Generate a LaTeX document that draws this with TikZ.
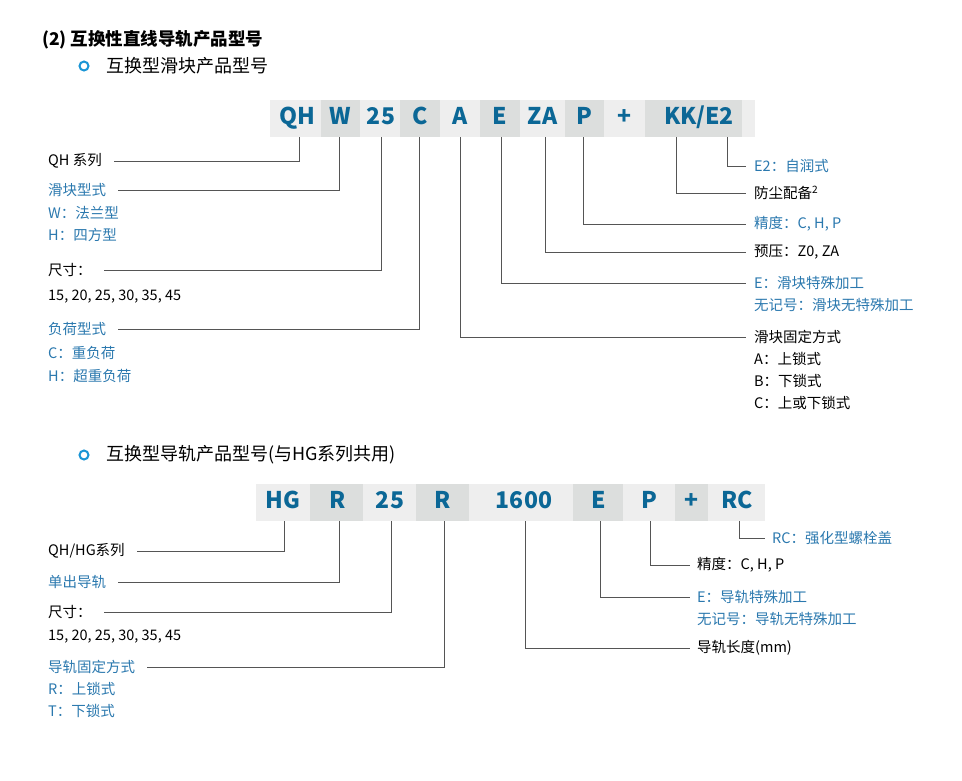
\documentclass[tikz,border=0pt]{standalone}
\usepackage{fontspec}
\setmainfont{Noto Sans CJK SC}
\usetikzlibrary{positioning}
\definecolor{codeblue}{HTML}{0B6796}
\definecolor{lblue}{HTML}{2A78AE}
\definecolor{iconblue}{HTML}{1A95D5}
\definecolor{boxlight}{HTML}{EEEEEE}
\definecolor{boxdark}{HTML}{DCDEDD}
\definecolor{lead}{HTML}{555555}
\tikzset{cell/.style = {inner sep = 0, minimum height = 37, text = codeblue,
                        text height = 16, text depth = 4,
                        font = \fontsize{23}{25}\selectfont\bfseries}}
\tikzset{lab/.style = {anchor = west, inner sep = 0, font = \fontsize{14.5}{16}\selectfont}}
\tikzset{lbl/.style = {lab, text = lblue}}
\tikzset{ln/.style = {draw = lead, line width = 0.9}}
\newcommand{\cell}[5]{\fill [#4] (#2, #1) rectangle (#3, #1+37);
  \node [cell] (#5) at ({(#2+#3)/2}, #1+18.5) {};}

\begin{document}
\begin{tikzpicture}[x = 1pt, y = -1pt]
      \useasboundingbox (0, 0) rectangle (962, 780);

      % headings
      \node [lab, font = \fontsize{17.5}{19}\selectfont\bfseries] (h0) at (42, 40) {(2) 互换性直线导轨产品型号};
      \draw [iconblue, line width = 2] (84, 66) circle [radius = 4.5];
      \node [lab, font = \fontsize{18}{20}\selectfont] (h1) at (106, 66) {互换型滑块产品型号};
      \draw [iconblue, line width = 2] (84, 455) circle [radius = 4.5];
      \node [lab, font = \fontsize{18}{20}\selectfont] (h2) at (106, 455) {互换型导轨产品型号(与HG系列共用)};

      % slider code
      \cell{100}{270}{321}{boxlight}{qh}
      \cell{100}{321}{360}{boxdark}{w}
      \cell{100}{360}{400}{boxlight}{sz}
      \cell{100}{400}{440}{boxdark}{c}
      \cell{100}{440}{480}{boxlight}{a}
      \cell{100}{480}{520}{boxdark}{e}
      \cell{100}{520}{565}{boxlight}{za}
      \cell{100}{565}{604}{boxdark}{p}
      \cell{100}{604}{645}{boxlight}{plus}
      \cell{100}{645}{742}{boxdark}{kk}
      \fill [boxlight] (742, 100) rectangle (755, 137);
      \node [cell] at (297, 118.5) {QH};
      \node [cell] at (w) {W};
      \node [cell] at (381, 118.5) {25};
      \node [cell] at (c) {C};
      \node [cell] at (a) {A};
      \node [cell] at (e) {E};
      \node [cell] at (za) {ZA};
      \node [cell] at (p) {P};
      \node [cell] at (plus) {+};
      \node [cell] at (699, 118.5) {KK/E2};
      \coordinate (qhT) at (299, 137);
      \coordinate (wT) at (339, 137);
      \coordinate (szT) at (381, 137);
      \coordinate (cT) at (419, 137);
      \coordinate (aT) at (460, 137);
      \coordinate (eT) at (501, 137);
      \coordinate (zaT) at (545, 137);
      \coordinate (pT) at (583, 137);
      \coordinate (kkT) at (676, 137);
      \coordinate (e2T) at (727, 137);

      \node [lab] (lqh) at (48, 161) {QH 系列};
      \node [lbl] (lw) at (48, 190) {滑块型式};
      \node [lbl] at (48, 213) {W：法兰型};
      \node [lbl] at (48, 235) {H：四方型};
      \node [lab] (lsz) at (48, 270) {尺寸：};
      \node [lab] at (48, 297) {15, 20, 25, 30, 35, 45};
      \node [lbl] (lc) at (48, 329) {负荷型式};
      \node [lbl] at (48, 353) {C：重负荷};
      \node [lbl] at (48, 376) {H：超重负荷};

      \node [lbl] (le2) at (754, 166) {E2：自润式};
      \node [lab] (lkk) at (754, 193) {防尘配备\textsuperscript{2}};
      \node [lbl] (lp) at (754, 224) {精度：C, H, P};
      \node [lab] (lza) at (754, 252) {预压：Z0, ZA};
      \node [lbl] (le) at (754, 283) {E：滑块特殊加工};
      \node [lbl] at (754, 305) {无记号：滑块无特殊加工};
      \node [lab] (la) at (754, 337) {滑块固定方式};
      \node [lab] at (754, 359) {A：上锁式};
      \node [lab] at (754, 381) {B：下锁式};
      \node [lab] at (754, 403) {C：上或下锁式};

      \draw [ln] (qhT) |- ([xshift = 12]lqh.east);
      \draw [ln] (wT) |- ([xshift = 12]lw.east);
      \draw [ln] (szT) |- ([xshift = 12]lsz.east);
      \draw [ln] (cT) |- ([xshift = 12]lc.east);
      \foreach \t/\l in {e2T/le2, kkT/lkk, pT/lp, zaT/lza, eT/le, aT/la}
        \draw [ln] (\t) |- ([xshift = -8]\l.west);

      % rail code
      \cell{484}{256}{310}{boxlight}{hg}
      \cell{484}{310}{363}{boxdark}{r1}
      \cell{484}{363}{416}{boxlight}{sz2}
      \cell{484}{416}{469}{boxdark}{r2}
      \cell{484}{469}{573}{boxlight}{len}
      \cell{484}{573}{623}{boxdark}{e3}
      \cell{484}{623}{675}{boxlight}{p2}
      \cell{484}{675}{708}{boxdark}{plus2}
      \cell{484}{708}{765}{boxlight}{rc}
      \node [cell] at (283, 502.5) {HG};
      \node [cell] at (338, 502.5) {R};
      \node [cell] at (390, 502.5) {25};
      \node [cell] at (443, 502.5) {R};
      \node [cell] at (524, 502.5) {1600};
      \node [cell] at (599, 502.5) {E};
      \node [cell] at (649, 502.5) {P};
      \node [cell] at (plus2) {+};
      \node [cell] at (737, 502.5) {RC};
      \coordinate (hgT) at (284, 521);
      \coordinate (r1T) at (339, 521);
      \coordinate (sz2T) at (391, 521);
      \coordinate (r2T) at (444, 521);
      \coordinate (lenT) at (525, 521);
      \coordinate (e3T) at (600, 521);
      \coordinate (p2T) at (650, 521);
      \coordinate (rcT) at (739, 521);

      \node [lab] (lhg) at (48, 551) {QH/HG系列};
      \node [lbl] (lr1) at (48, 582) {单出导轨};
      \node [lab] (lsz2) at (48, 612) {尺寸：};
      \node [lab] at (48, 637) {15, 20, 25, 30, 35, 45};
      \node [lbl] (lr2) at (48, 667) {导轨固定方式};
      \node [lbl] at (48, 689) {R：上锁式};
      \node [lbl] at (48, 711) {T：下锁式};

      \node [lbl] (lrc) at (772, 538) {RC：强化型螺栓盖};
      \node [lab] (lp2) at (697, 565) {精度：C, H, P};
      \node [lbl] (le3) at (697, 597) {E：导轨特殊加工};
      \node [lbl] at (697, 619) {无记号：导轨无特殊加工};
      \node [lab] (llen) at (697, 648) {导轨长度(mm)};

      \draw [ln] (hgT) |- ([xshift = 12]lhg.east);
      \draw [ln] (r1T) |- ([xshift = 12]lr1.east);
      \draw [ln] (sz2T) |- ([xshift = 12]lsz2.east);
      \draw [ln] (r2T) |- ([xshift = 12]lr2.east);
      \foreach \t/\l in {rcT/lrc, p2T/lp2, e3T/le3, lenT/llen}
        \draw [ln] (\t) |- ([xshift = -7]\l.west);
    \end{tikzpicture}
\end{document}
